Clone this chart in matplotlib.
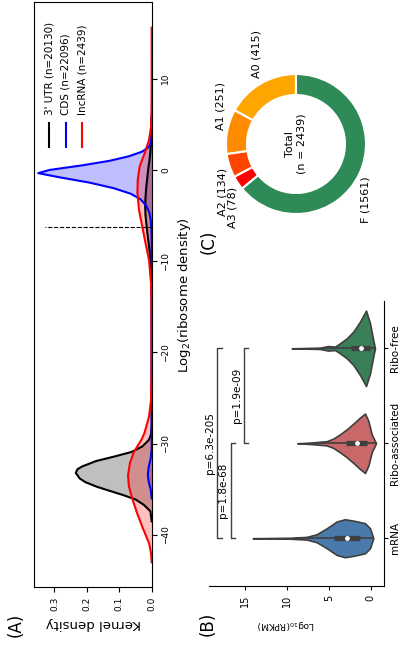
import matplotlib
matplotlib.use("Agg")
import matplotlib.pyplot as plt
import numpy as np

# -----------------------------------------------------------------------------
# Data
# -----------------------------------------------------------------------------

# (A) kernel density of log2 ribosome density
utr_x = [-38.5, -37.4, -36.7, -36.1, -35.6, -35.1, -34.7, -34.2, -33.8, -33.2, -32.8, -32.5,
         -31.9, -31.4, -30.9, -30.3, -29.6, -29.0, -28.0, -20.0, -14.0, -11.0, -9.0, -7.0,
         -5.0, -4.0, -3.0, -2.0, -1.0, 0.0, 1.0, 2.0, 3.0, 4.0, 6.0]
utr_d = [0.0, 0.004, 0.024, 0.050, 0.090, 0.135, 0.170, 0.205, 0.222, 0.234, 0.229, 0.215,
         0.172, 0.115, 0.062, 0.029, 0.009, 0.002, 0.0, 0.0, 0.0, 0.002, 0.006, 0.013,
         0.019, 0.020, 0.019, 0.017, 0.014, 0.011, 0.007, 0.004, 0.002, 0.001, 0.0]

cds_x = [-36.0, -35.0, -34.2, -33.4, -32.5, -31.6, -30.5, -8.0, -6.5, -5.5, -4.7, -3.9,
         -3.2, -2.6, -2.0, -1.4, -0.8, -0.35, 0.0, 0.5, 1.0, 1.5, 2.0, 2.5, 3.0, 4.0, 5.7]
cds_d = [0.0, 0.003, 0.009, 0.012, 0.009, 0.003, 0.0, 0.0, 0.001, 0.003, 0.007, 0.017,
         0.035, 0.065, 0.117, 0.190, 0.285, 0.350, 0.315, 0.215, 0.130, 0.070, 0.030,
         0.009, 0.003, 0.001, 0.0]

lnc_x = [-43.0, -42.0, -40.9, -39.1, -37.6, -36.0, -34.7, -33.5, -32.1, -30.9, -29.6,
         -28.8, -27.0, -25.2, -22.0, -18.0, -14.0, -12.4, -9.9, -8.0, -6.2, -4.4, -2.5,
         -1.1, 0.4, 1.8, 3.3, 4.7, 6.0, 8.0, 11.0, 15.6]
lnc_d = [0.0, 0.002, 0.008, 0.029, 0.045, 0.060, 0.070, 0.073, 0.067, 0.055, 0.032,
         0.022, 0.008, 0.002, 0.0005, 0.0005, 0.001, 0.002, 0.008, 0.019, 0.029, 0.039,
         0.044, 0.043, 0.037, 0.022, 0.008, 0.002, 0.0008, 0.0003, 0.0001, 0.0]

kde_labels = ["3' UTR (n=20130)", "CDS (n=22096)", "lncRNA (n=2439)"]
kde_colors = ["black", "blue", "red"]
cutoff = -6.2
cutoff_top = 0.33

# (B) violins of log10 RPKM
categories = ["mRNA", "Ribo-associated", "Ribo-free"]
violin_colors = ["#4a7aab", "#c86868", "#3a7f58"]
mrna_v = [14.08, 9.63, 7.64, 6.45, 5.25, 4.06, 3.07, 1.87, 0.68, 0.08, -0.31]
mrna_w = [0.0, 0.005, 0.014, 0.042, 0.105, 0.176, 0.200, 0.182, 0.158, 0.105, 0.0]
assoc_v = [8.76, 7.8, 6.85, 5.25, 4.46, 3.66, 2.86, 2.07, 1.28, 0.68, 0.28, -0.12, -0.63]
assoc_w = [0.0, 0.004, 0.010, 0.022, 0.049, 0.095, 0.147, 0.207, 0.271, 0.313, 0.235, 0.095, 0.0]
free_v = [9.43, 7.5, 6.05, 5.06, 4.26, 3.66, 2.86, 2.07, 1.28, 0.56, 0.08, -0.31, -0.51]
free_w = [0.0, 0.004, 0.007, 0.024, 0.018, 0.053, 0.105, 0.176, 0.281, 0.397, 0.263, 0.084, 0.0]
box_q1 = [1.28, 0.41, 0.08]
box_med = [2.86, 1.60, 1.16]
box_q3 = [4.34, 2.95, 2.39]
whisk_lo = [-0.3, -0.6, -0.5]
whisk_hi = [8.9, 6.7, 5.8]

pairs = [(0, 1), (1, 2), (0, 2)]
pair_labels = ["p=1.8e-68", "p=1.9e-09", "p=6.3e-205"]
pair_heights = [16.7, 15.1, 18.3]

# (C) donut
donut_labels = ["A0", "A1", "A2", "A3", "F"]
donut_counts = [415, 251, 134, 78, 1561]
donut_colors = ["#ffa500", "#ff8c00", "#ff4500", "#ff0000", "#2e8b57"]

EDGE = "#3f3f3f"

fig = plt.figure(figsize=(4.02, 6.54), dpi=100)

# -----------------------------------------------------------------------------
# (A) KDE, drawn sideways
# -----------------------------------------------------------------------------
axA = fig.add_axes([0.0853, 0.1024, 0.292, 0.8945])
for xs, ds, col in zip([utr_x, cds_x, lnc_x], [utr_d, cds_d, lnc_d], kde_colors):
    axA.fill_betweenx(xs, 0, ds, color=col, alpha=0.25, lw=0)
    axA.plot(ds, xs, color=col, lw=1.5)
axA.hlines(cutoff, 0, cutoff_top, colors="black", linestyles="--", lw=0.8)
axA.set_xlim(0.362, 0)
axA.set_ylim(-45.7, 18.4)
axA.set_xticks([0, 0.1, 0.2, 0.3])
axA.set_yticks([-40, -30, -20, -10, 0, 10])
axA.yaxis.tick_right()
axA.yaxis.set_label_position("right")
axA.tick_params(labelsize=6.5, labelrotation=90, length=3.5)
for t in axA.get_yticklabels():
    t.set_va("center")
axA.set_xlabel("Kernel density", rotation=180, fontsize=9.5)
axA.set_ylabel("Log$_2$(ribosome density)", rotation=90, fontsize=9.5)

# sideways legend
for k, (lab, col) in enumerate(zip(kde_labels, kde_colors)):
    fx = 0.128 + 0.141 * k
    axA.plot([fx, fx], [0.752, 0.793], color=col, lw=1.5, transform=axA.transAxes)
    axA.text(fx, 0.807, lab, rotation=90, ha="center", va="bottom",
             fontsize=7.5, transform=axA.transAxes)

# -----------------------------------------------------------------------------
# (B) violins, drawn sideways
# -----------------------------------------------------------------------------
axB = fig.add_axes([0.5207, 0.1044, 0.4346, 0.4356])
for i, (vs, ws) in enumerate(zip([mrna_v, assoc_v, free_v], [mrna_w, assoc_w, free_w])):
    vs = np.asarray(vs)
    ws = np.asarray(ws)
    axB.fill_between(vs, i - ws, i + ws, facecolor=violin_colors[i],
                     edgecolor=EDGE, lw=1.2, zorder=2)
    axB.plot([whisk_lo[i], whisk_hi[i]], [i, i], color=EDGE, lw=1.2, zorder=3)
    axB.plot([box_q1[i], box_q3[i]], [i, i], color=EDGE, lw=3.8,
             solid_capstyle="butt", zorder=3)
    axB.scatter([box_med[i]], [i], s=6, color="white", zorder=4)

for (a, b), lab, h in zip(pairs, pair_labels, pair_heights):
    axB.plot([h - 0.5, h, h, h - 0.5], [a, a, b, b], color=EDGE, lw=1)
    axB.text(h + 0.3, (a + b) / 2, lab, rotation=90, ha="right", va="center", fontsize=7.5)

axB.set_xlim(19.26, -1.59)
axB.set_ylim(-0.5, 2.5)
axB.set_xticks([0, 5, 10, 15])
axB.set_yticks(range(len(categories)))
axB.set_yticklabels(categories)
axB.yaxis.tick_right()
axB.tick_params(labelsize=7.5, labelrotation=90, length=3)
axB.tick_params(axis="y", pad=1.5)
axB.tick_params(axis="x", labelsize=7)
for t in axB.get_yticklabels():
    t.set_va("center")
axB.spines["left"].set_visible(False)
axB.spines["top"].set_visible(False)
axB.set_xlabel("Log$_{10}$(RPKM)", rotation=180, fontsize=6.5)
axB.xaxis.set_label_coords(0.44, -0.115)

# -----------------------------------------------------------------------------
# (C) donut
# -----------------------------------------------------------------------------
axC = fig.add_axes([0.4838, 0.6246, 0.505, 0.3104])
wedges, _ = axC.pie(donut_counts, colors=donut_colors, startangle=90, counterclock=True,
                    wedgeprops=dict(width=0.3, edgecolor="white", linewidth=1.5))
for w, lab, n in zip(wedges, donut_labels, donut_counts):
    ang = np.radians((w.theta1 + w.theta2) / 2)
    axC.text(1.1 * np.cos(ang), 1.1 * np.sin(ang), f"{lab} ({n})", rotation=90,
             ha="center", va="bottom" if np.sin(ang) > 0 else "top", fontsize=8)
axC.text(0, 0, f"Total\n(n = {sum(donut_counts)})", rotation=90, ha="center",
         va="center", multialignment="center", fontsize=8)
axC.set_xlim(-1.45, 1.45)
axC.set_ylim(-1.45, 1.45)
axC.set_aspect("equal")
axC.axis("off")

# panel letters
fig.text(16 / 402, 1 - 625 / 654, "(A)", rotation=90, ha="center", va="center", fontsize=12)
fig.text(208 / 402, 1 - 624 / 654, "(B)", rotation=90, ha="center", va="center", fontsize=12)
fig.text(209 / 402, 1 - 242 / 654, "(C)", rotation=90, ha="center", va="center", fontsize=12)

fig.savefig("out.png", dpi=100)
